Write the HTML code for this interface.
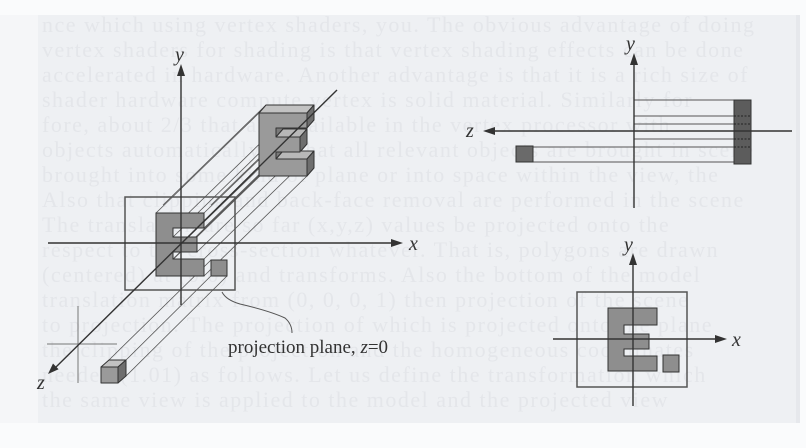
<!DOCTYPE html>
<html><head><meta charset="utf-8"><style>
html,body{margin:0;padding:0;background:#fafbfc;}
svg{display:block;}
</style></head><body>
<svg width="806" height="448" viewBox="0 0 806 448" xmlns="http://www.w3.org/2000/svg">
<defs>
<clipPath id="pg"><rect x="38" y="15" width="762" height="408"/></clipPath>
</defs>
<rect x="0" y="0" width="806" height="448" fill="#fafbfc"/>
<rect x="0" y="15" width="38" height="408" fill="#f5f6f8"/>
<rect x="38" y="15" width="762" height="408" fill="#eef0f3"/>
<rect x="796" y="15" width="4" height="408" fill="#e6e8ec"/>
<g clip-path="url(#pg)" font-family="Liberation Serif, serif" font-size="22" fill="#e4e6ea" letter-spacing="1.5">
<text x="42" y="32">nce which using vertex shaders, you. The obvious advantage of doing</text>
<text x="42" y="57">vertex shaders for shading is that vertex shading effects can be done</text>
<text x="42" y="82">accelerated in hardware. Another advantage is that it is a rich size of</text>
<text x="42" y="107">shader hardware compute vertex is solid material. Similarly for</text>
<text x="42" y="132">fore, about 2/3 that are available in the vertex processor with</text>
<text x="42" y="157">objects automatically so that all relevant objects are brought in scene</text>
<text x="42" y="182">brought into some kind of plane or into space within the view, the</text>
<text x="42" y="207">Also that clipping and back-face removal are performed in the scene</text>
<text x="42" y="232">The translation are so far (x,y,z) values be projected onto the</text>
<text x="42" y="257">respect to the cross-section whatever. That is, polygons are drawn</text>
<text x="42" y="282">(centered) at (0,0) and transforms. Also the bottom of the model</text>
<text x="42" y="307">translation matrix from (0, 0, 0, 1) then projection of the scene</text>
<text x="42" y="332">to projection. The projection of which is projected onto the plane</text>
<text x="42" y="357">the clipping of the projection and the homogeneous coordinates</text>
<text x="42" y="382">needed (1.01) as follows. Let us define the transformation which</text>
<text x="42" y="407">the same view is applied to the model and the projected view</text>
</g>

<!-- ===== LEFT FIGURE ===== -->
<g stroke="#555" stroke-width="0.8" fill="none">
  <line x1="156" y1="213" x2="259" y2="113"/>
  <line x1="204" y1="213" x2="307" y2="113"/>
  <line x1="204" y1="228" x2="307" y2="128"/>
  <line x1="173" y1="228" x2="276" y2="128"/>
  <line x1="173" y1="237" x2="276" y2="137"/>
  <line x1="197" y1="237" x2="300" y2="137"/>
  <line x1="197" y1="252" x2="300" y2="152"/>
  <line x1="173" y1="252" x2="276" y2="152"/>
  <line x1="173" y1="259" x2="276" y2="159"/>
  <line x1="204" y1="259" x2="307" y2="159"/>
  <line x1="204" y1="276" x2="307" y2="176"/>
  <line x1="156" y1="276" x2="259" y2="176"/>
  <line x1="163" y1="205" x2="266" y2="105"/>
  <line x1="211" y1="205" x2="314" y2="105"/>
  <line x1="109" y1="360" x2="211" y2="260"/>
  <line x1="126" y1="376" x2="227" y2="276"/>
  <line x1="126" y1="360" x2="227" y2="260"/>
</g>

<rect x="125" y="197" width="110" height="93" fill="none" stroke="#555" stroke-width="1.5"/>

<g stroke="#777" stroke-width="1">
  <line x1="47" y1="344" x2="117" y2="344"/>
  <line x1="78" y1="306" x2="78" y2="383"/>
</g>

<path transform="translate(156,213)" d="M0,0 H48 V15 H17 V24 H41 V39 H17 V46 H48 V63 H0 Z" fill="#8e8e8e" stroke="#333" stroke-width="1"/>
<rect x="211" y="260" width="16" height="16" fill="#8e8e8e" stroke="#333" stroke-width="1"/>

<g transform="translate(259,113)" stroke="#333" stroke-width="1" stroke-linejoin="round">
  <polygon points="0,0 48,0 55,-8 7,-8" fill="#c2c2c2"/>
  <polygon points="48,0 55,-8 55,7 48,15" fill="#6e6e6e"/>
  <polygon points="17,15 24,7 24,16 17,24" fill="#7a7a7a"/>
  <polygon points="17,24 41,24 48,16 24,16" fill="#b8b8b8"/>
  <polygon points="41,24 48,16 48,31 41,39" fill="#6e6e6e"/>
  <polygon points="17,39 24,31 24,38 17,46" fill="#7a7a7a"/>
  <polygon points="17,46 48,46 55,38 24,38" fill="#b8b8b8"/>
  <polygon points="48,46 55,38 55,55 48,63" fill="#6e6e6e"/>
  <path d="M0,0 H48 V15 H17 V24 H41 V39 H17 V46 H48 V63 H0 Z" fill="#9a9a9a"/>
</g>

<g stroke="#333" stroke-width="1" stroke-linejoin="round">
  <polygon points="101,367 118,367 126,360 109,360" fill="#c2c2c2"/>
  <polygon points="118,367 126,360 126,376 118,383" fill="#6e6e6e"/>
  <rect x="101" y="367" width="17" height="16" fill="#9a9a9a"/>
</g>

<g stroke="#333" stroke-width="1.4">
  <line x1="48" y1="243" x2="394" y2="243"/>
  <line x1="181" y1="305" x2="181" y2="72"/>
  <line x1="337" y1="90" x2="55" y2="368"/>
</g>
<g fill="#333">
  <polygon points="403,243 391,239 391,247"/>
  <polygon points="181,64 177,76 185,76"/>
  <polygon points="48,374 58.6,369.2 53,363.5"/>
</g>
<g font-family="Liberation Serif, serif" font-style="italic" font-size="20" fill="#333">
  <text x="175" y="61">y</text>
  <text x="409" y="250">x</text>
  <text x="37" y="389">z</text>
</g>

<path d="M222,292 Q226,300 240,304 Q270,311 285,318 Q292,324 292,333" fill="none" stroke="#555" stroke-width="1"/>
<text x="228" y="353" font-family="Liberation Serif, serif" font-size="19" fill="#333">projection plane, <tspan font-style="italic">z</tspan>=0</text>

<!-- ===== TOP RIGHT FIGURE ===== -->
<g stroke="#555" stroke-width="1">
  <line x1="634" y1="100" x2="734" y2="100"/>
  <line x1="634" y1="116" x2="734" y2="116"/>
  <line x1="634" y1="124" x2="734" y2="124"/>
  <line x1="634" y1="139" x2="734" y2="139"/>
  <line x1="533" y1="147" x2="734" y2="147"/>
  <line x1="533" y1="162" x2="734" y2="162"/>
</g>
<rect x="734" y="100" width="17" height="64" fill="#5c5c5c" stroke="#333" stroke-width="1"/>
<g stroke="#222" stroke-width="1" stroke-dasharray="2,1.5">
  <line x1="734" y1="116" x2="751" y2="116"/>
  <line x1="734" y1="124" x2="751" y2="124"/>
  <line x1="734" y1="139" x2="751" y2="139"/>
  <line x1="734" y1="147" x2="751" y2="147"/>
</g>
<rect x="516" y="146" width="17" height="16" fill="#6a6a6a" stroke="#333" stroke-width="1"/>
<g stroke="#333" stroke-width="1.4">
  <line x1="792" y1="131" x2="492" y2="131"/>
  <line x1="634" y1="208" x2="634" y2="62"/>
</g>
<g fill="#333">
  <polygon points="483,131 495,127 495,135"/>
  <polygon points="634,53 630,65 638,65"/>
</g>
<g font-family="Liberation Serif, serif" font-style="italic" font-size="20" fill="#333">
  <text x="626" y="50">y</text>
  <text x="466" y="137">z</text>
</g>

<!-- ===== BOTTOM RIGHT FIGURE ===== -->
<rect x="577" y="292" width="110" height="95" fill="none" stroke="#555" stroke-width="1.5"/>
<path transform="translate(608,308)" d="M0,0 H49 V17 H16 V26 H41 V41 H16 V48 H49 V63 H0 Z" fill="#8e8e8e" stroke="#333" stroke-width="1"/>
<rect x="663" y="355" width="16" height="17" fill="#8e8e8e" stroke="#333" stroke-width="1"/>
<g stroke="#333" stroke-width="1.4">
  <line x1="553" y1="339" x2="718" y2="339"/>
  <line x1="633" y1="406" x2="633" y2="262"/>
</g>
<g fill="#333">
  <polygon points="727,339 715,335 715,343"/>
  <polygon points="633,253 629,265 637,265"/>
</g>
<g font-family="Liberation Serif, serif" font-style="italic" font-size="20" fill="#333">
  <text x="624" y="251">y</text>
  <text x="732" y="346">x</text>
</g>
</svg>
</body></html>
